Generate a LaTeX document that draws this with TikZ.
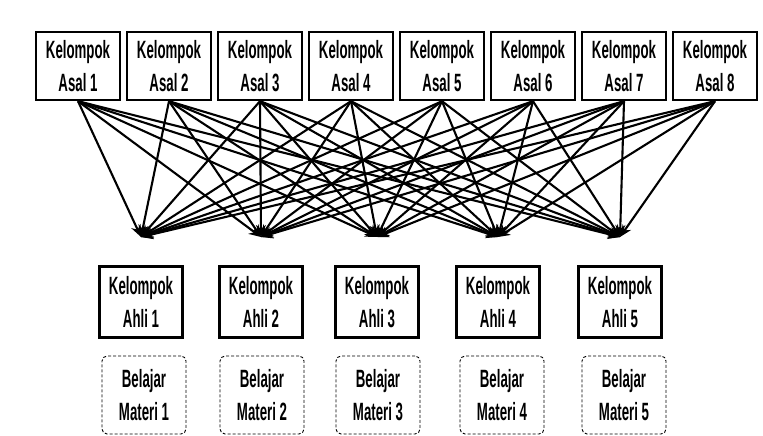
\documentclass[tikz,border=0pt]{standalone}
\usepackage{fontspec}
\setmainfont[FakeStretch=0.53]{Liberation Sans}
\usetikzlibrary{arrows.meta}
\begin{document}
\begin{tikzpicture}[x=1pt,y=-1pt,
  boxtxt/.style={font=\fontsize{25}{33}\selectfont\bfseries, align=center, inner sep=0pt},
  asalbox/.style={boxtxt, draw, line width=2.4pt, minimum width=84pt, minimum height=68pt},
  ahlibox/.style={boxtxt, draw, line width=2.4pt, minimum width=83pt, minimum height=71pt},
  materibox/.style={boxtxt, draw, densely dashed, line width=0.9pt, rounded corners=5pt, minimum width=84pt, minimum height=78pt},
  link/.style={line width=2.1pt, -{Stealth[length=12pt,width=10pt]}}
]
\useasboundingbox (0,0) rectangle (763,436);
\fill[white] (0,0) rectangle (763,436);
\foreach \i/\x in {1/78,2/169,3/260,4/351,5/442,6/533,7/624,8/715}{
  \node[asalbox] (asal\i) at (\x,66) {Kelompok\\Asal \i};
}
\foreach \j/\x in {1/141,2/261,3/377,4/498,5/620}{
  \node[ahlibox] (ahli\j) at (\x,302) {Kelompok\\Ahli \j};
  \coordinate (t\j) at (\x,237);
}
\foreach \j/\x in {1/144,2/262,3/378,4/502,5/624}{
  \node[materibox] (mat\j) at (\x,395) {Belajar\\Materi \j};
}
\foreach \i in {1,...,8}{
  \foreach \j in {1,...,5}{
    \draw[link] (asal\i.south) -- (t\j);
  }
}
\end{tikzpicture}
\end{document}
